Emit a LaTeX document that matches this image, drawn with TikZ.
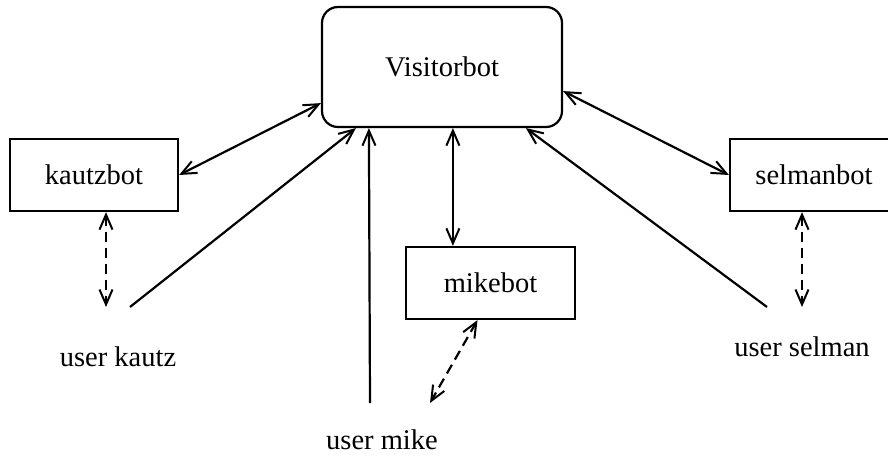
\documentclass[tikz,border=0pt]{standalone}
\usepackage{fontspec}
\setmainfont{Liberation Serif}
\usetikzlibrary{arrows.meta}
\begin{document}
\begin{tikzpicture}[x=1pt,y=-1pt,
  lw/.style={line width=2.2pt},
  box/.style={draw,lw,minimum width=168pt,minimum height=72pt,inner sep=0pt,font=\fontsize{28.5}{34}\selectfont},
  lbl/.style={inner sep=0pt,font=\fontsize{28.5}{34}\selectfont},
  tip/.style={-{Straight Barb[length=15pt,width=13pt,line width=2pt]}},
  tips/.style={{Straight Barb[length=15pt,width=13pt,line width=2pt]}-{Straight Barb[length=15pt,width=13pt,line width=2pt]}},
  dsh/.style={dash pattern=on 10pt off 6pt}]
\useasboundingbox (0,0) rectangle (888,457);
\node[box,rounded corners=16pt,minimum width=240pt,minimum height=120pt] (V) at (442,67) {Visitorbot};
\node[box] (K) at (94,175) {kautzbot};
\node[box] (S) at (814,175) {selmanbot};
\node[box,minimum width=169pt] (M) at (490.5,283) {mikebot};
\node[lbl] (UK) at (118,357) {user kautz};
\node[lbl] (UM) at (382,440) {user mike};
\node[lbl] (US) at (802,347) {user selman};
% named connector ends
\coordinate (vk) at ([yshift=25pt]V.south west);
\coordinate (vs) at ([yshift=37pt]V.south east);
\coordinate (vuk) at ([xshift=35pt]V.south west);
\coordinate (vum) at ([xshift=48pt]V.south west);
\coordinate (vm) at ([xshift=132pt]V.south west);
\coordinate (vus) at ([xshift=205pt]V.south west);
\coordinate (uk1) at (130,307);
\coordinate (uk2) at (106,307);
\coordinate (um1) at (370,403);
\coordinate (um2) at (430,403);
\coordinate (us1) at (767,307);
\coordinate (us2) at (802,307);
\draw[lw,tips] (K.east) -- (vk);
\draw[lw,tips] (vs) -- (S.west);
\draw[lw,tip] (uk1) -- (vuk);
\draw[lw,tip] (um1) -- (vum);
\draw[lw,tip] (us1) -- (vus);
\draw[lw,tips] (vm) -- (vm |- M.north);
\draw[lw,tips,dsh] (K.south -| uk2) -- (uk2);
\draw[lw,tips,dsh] (S.south -| us2) -- (us2);
\draw[lw,tips,dsh] ([xshift=-13pt]M.south) -- (um2);
\end{tikzpicture}
\end{document}
